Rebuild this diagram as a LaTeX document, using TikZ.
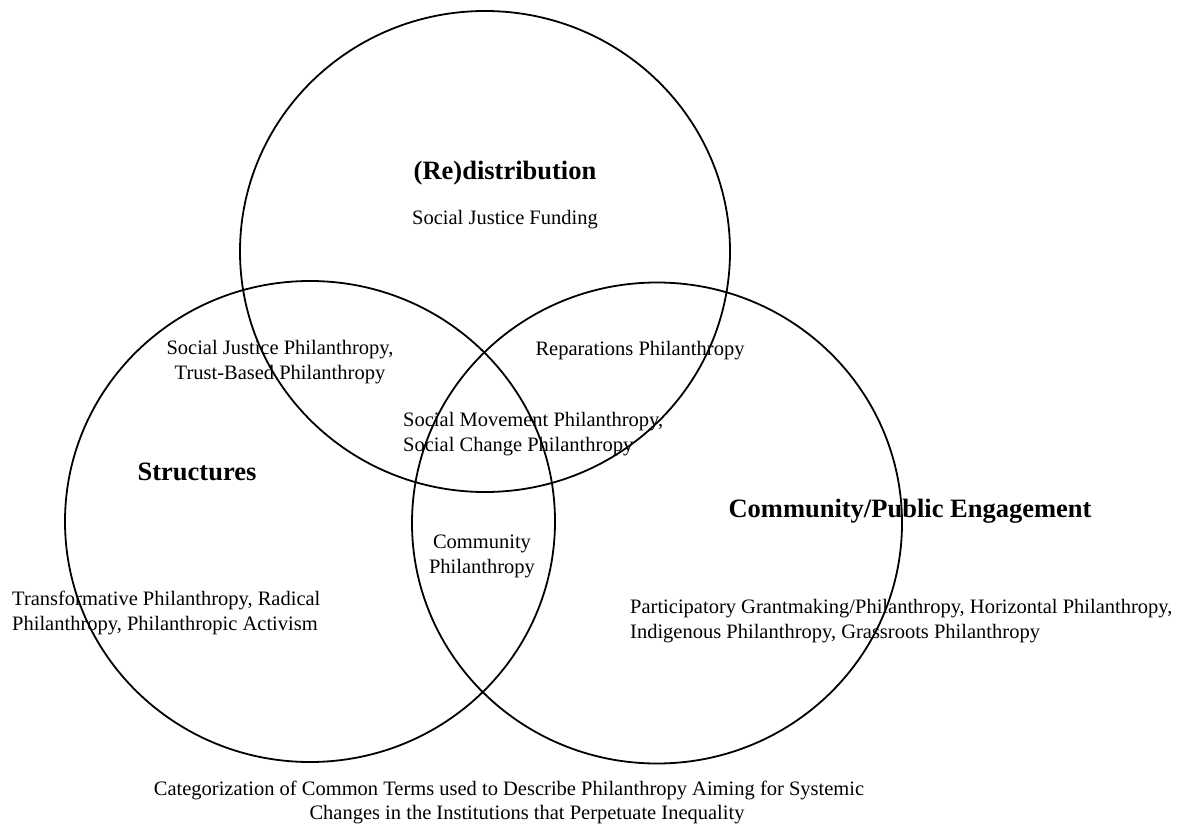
\documentclass[tikz,border=0pt]{standalone}
\usepackage{fontspec}
\setmainfont{Liberation Serif}
\newcommand{\termsize}{\fontsize{20.5}{25}\selectfont}
\newcommand{\headsize}{\fontsize{26.5}{30}\selectfont\bfseries}
\begin{document}
\begin{tikzpicture}[x=1pt,y=-1pt]
	\tikzstyle{every node}+=[inner sep=0pt]
	\tikzstyle{term}=[font=\termsize, align=center]
	\tikzstyle{termleft}=[font=\termsize, align=left, anchor=west]
	\tikzstyle{head}=[font=\headsize]
	\useasboundingbox (0,0) rectangle (1182,826);
	\draw [black, line width=1.8pt] (485,251.5) ellipse (245pt and 240.5pt);
	\draw [black, line width=1.8pt] (310,521.5) ellipse (245pt and 240.5pt);
	\draw [black, line width=1.8pt] (657,523) ellipse (245pt and 240.5pt);
	\node [head] (redist) at (505,173) {(Re)distribution};
	\node [term] (sjfund) at (505,220) {Social Justice Funding};
	\node [head] (struct) at (197,472) {Structures};
	\node [head] (commeng) at (910,511) {Community/Public Engagement};
	\node [term] (sjphil) at (280,362) {Social Justice Philanthropy,\\Trust-Based Philanthropy};
	\node [term] (repar) at (640,351) {Reparations Philanthropy};
	\node [termleft] (movement) at (403,434) {Social Movement Philanthropy,\\Social Change Philanthropy};
	\node [term] (commphil) at (482,556) {Community\\Philanthropy};
	\node [termleft] (transf) at (12,613) {Transformative Philanthropy, Radical\\Philanthropy, Philanthropic Activism};
	\node [termleft] (partic) at (630,621) {Participatory Grantmaking/Philanthropy, Horizontal Philanthropy,\\Indigenous Philanthropy, Grassroots Philanthropy};
	\node [term] (caption) at (509,790) {Categorization of Common Terms used to Describe Philanthropy Aiming for Systemic};
	\node [term] (captiontwo) at (527,815) {Changes in the Institutions that Perpetuate Inequality};
\end{tikzpicture}
\end{document}
